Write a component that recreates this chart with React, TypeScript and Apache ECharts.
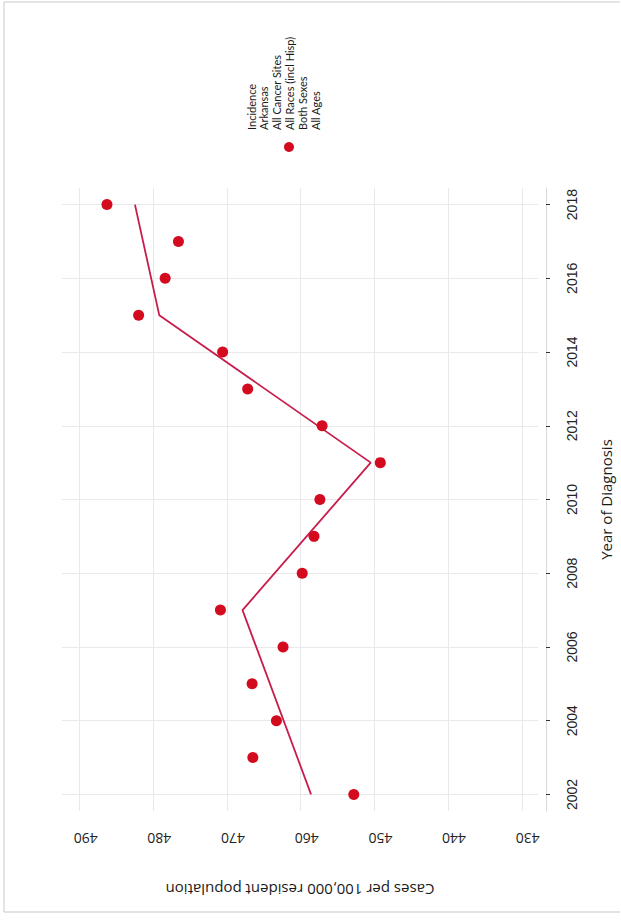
import React, { useEffect, useRef } from "react";
import * as echarts from "echarts";

const years = [2002, 2003, 2004, 2005, 2006, 2007, 2008, 2009, 2010, 2011, 2012, 2013, 2014, 2015, 2016, 2017, 2018];
const rates = [452.8, 466.5, 463.3, 466.6, 462.4, 470.9, 459.8, 458.2, 457.4, 449.2, 457.1, 467.2, 470.6, 482.0, 478.4, 476.6, 486.3];
const trendYears = [2002, 2007, 2011, 2015, 2018];
const trendRates = [458.6, 467.9, 450.5, 479.2, 482.5];
const rateTicks = [430, 440, 450, 460, 470, 480, 490];
const yearTicks = [2002, 2004, 2006, 2008, 2010, 2012, 2014, 2016, 2018];
const legendLines = ["Incidence", "Arkansas", "All Cancer Sites", "All Races (incl Hisp)", "Both Sexes", "All Ages"];

export default function App() {
  const ref = useRef<HTMLDivElement>(null);
  useEffect(() => {
    const chart = echarts.init(ref.current!, null, { renderer: "svg" });
    const grid = "#e9e9ec";
    chart.setOption({
      animation: false,
      backgroundColor: "#ffffff",
      grid: { left: 62, right: 76, top: 188, bottom: 110 },
      xAxis: {
        type: "value",
        inverse: true,
        min: 427.8,
        max: 492.4,
        position: "bottom",
        name: "Cases per 100,000 resident population",
        nameLocation: "middle",
        nameGap: 71,
        nameRotate: 180,
        nameTextStyle: { fontFamily: "Open Sans", fontSize: 15, color: "#1a1a1a" },
        axisLine: { show: false },
        axisTick: { show: false, customValues: rateTicks },
        axisLabel: {
          customValues: rateTicks,
          rotate: 180,
          margin: 27,
          align: "center",
          verticalAlign: "middle",
          padding: [0, 12, 0, 0],
          fontFamily: "Open Sans",
          fontSize: 14,
          color: "#222",
        },
        splitLine: { show: true, lineStyle: { color: grid, width: 1 } },
      },
      yAxis: {
        type: "value",
        min: 2001.55,
        max: 2018.45,
        position: "right",
        offset: 8,
        name: "Year of Diagnosis",
        nameLocation: "middle",
        nameGap: 52,
        nameRotate: 90,
        nameTextStyle: { fontFamily: "Open Sans", fontSize: 15, color: "#1a1a1a" },
        axisLine: { show: true, lineStyle: { color: "#d8d8d8" } },
        axisTick: { show: true, length: 4, customValues: yearTicks, lineStyle: { color: "#333" } },
        axisLabel: {
          customValues: yearTicks,
          formatter: (v: number) => String(v),
          rotate: 90,
          margin: 26,
          align: "center",
          verticalAlign: "middle",
          fontFamily: "Liberation Sans",
          fontSize: 14,
          color: "#222",
        },
        splitLine: { show: true, lineStyle: { color: grid, width: 1 } },
      },
      series: [
        {
          type: "line",
          data: trendYears.map((y, i) => [trendRates[i], y]),
          showSymbol: false,
          lineStyle: { color: "#c81d4c", width: 1.8 },
          z: 2,
        },
        {
          type: "scatter",
          data: years.map((y, i) => [rates[i], y]),
          symbolSize: 11,
          itemStyle: { color: "#d40a1e", opacity: 1 },
          z: 3,
        },
      ],
      graphic: [
        {
          type: "polyline",
          shape: { points: [[620, 2], [4, 2], [4, 912], [620, 912]] },
          style: { stroke: "#c9c9c9", lineWidth: 1, fill: "none" },
          silent: true,
        },
        ...legendLines.map((t, i) => ({
          type: "text",
          x: 251 + i * 12.8,
          y: 130,
          rotation: Math.PI / 2,
          style: {
            text: t,
            fontFamily: "Lato",
            fontSize: 11,
            fill: "#1a1a1a",
            align: "left",
            verticalAlign: "middle",
          },
        })),
        {
          type: "circle",
          shape: { cx: 289, cy: 147, r: 5 },
          style: { fill: "#d40a1e" },
        },
      ],
    });
    return () => chart.dispose();
  }, []);
  return (
    <div
      ref={ref}
      style={{ position: "fixed", left: 0, top: 0, width: 621, height: 921, background: "#fff" }}
    />
  );
}
